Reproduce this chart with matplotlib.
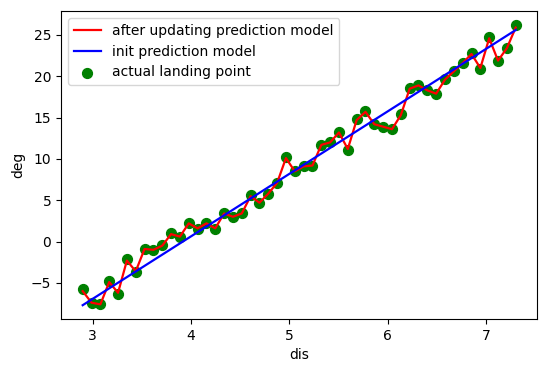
import numpy as np
import matplotlib
matplotlib.use("Agg")
import matplotlib.pyplot as plt

# distances (50 evenly spaced samples)
dis = np.linspace(2.9, 7.3, 50)

actual_deg = [-5.8, -7.4, -7.6, -4.8, -6.3, -2.1, -3.7, -0.9, -1.0, -0.4,
              1.0, 0.6, 2.2, 1.5, 2.2, 1.5, 3.4, 3.0, 3.4, 5.6,
              4.7, 5.8, 7.1, 10.2, 8.5, 9.2, 9.2, 11.7, 12.1, 13.3,
              11.1, 14.8, 15.8, 14.2, 13.9, 13.6, 15.4, 18.6, 19.0, 18.3,
              17.8, 19.7, 20.7, 21.6, 22.8, 20.9, 24.7, 21.8, 23.4, 26.2]

updated_pred = [-6.0, -7.4, -7.6, -4.9, -6.2, -2.3, -3.6, -0.9, -1.0, -0.5,
                0.9, 0.6, 2.2, 1.6, 2.2, 1.6, 3.4, 3.0, 3.4, 5.5,
                4.7, 5.8, 7.1, 10.1, 8.5, 9.1, 9.2, 11.7, 12.0, 13.2,
                11.2, 14.7, 15.7, 14.2, 13.9, 13.6, 15.3, 18.5, 18.9, 18.3,
                17.9, 19.6, 20.6, 21.6, 22.7, 21.0, 24.6, 21.9, 23.4, 25.9]

init_x = [2.9, 7.3]
init_deg = [-7.7, 25.6]

plt.rcParams['font.size'] = 10
fig = plt.figure(figsize=(5.5, 3.69), dpi=100)
ax = fig.add_axes([0.111, 0.135, 0.866, 0.835])

ax.plot(dis, updated_pred, color="red", lw=1.6, zorder=3, label="after updating prediction model")
ax.plot(init_x, init_deg, color="blue", lw=1.6, zorder=4, label="init prediction model")
ax.scatter(dis, actual_deg, color="green", s=50, zorder=2, label="actual landing point")

ax.set_xlabel("dis")
ax.set_ylabel("deg")
ax.legend(loc="upper left")

fig.savefig("out.png", dpi=100)
